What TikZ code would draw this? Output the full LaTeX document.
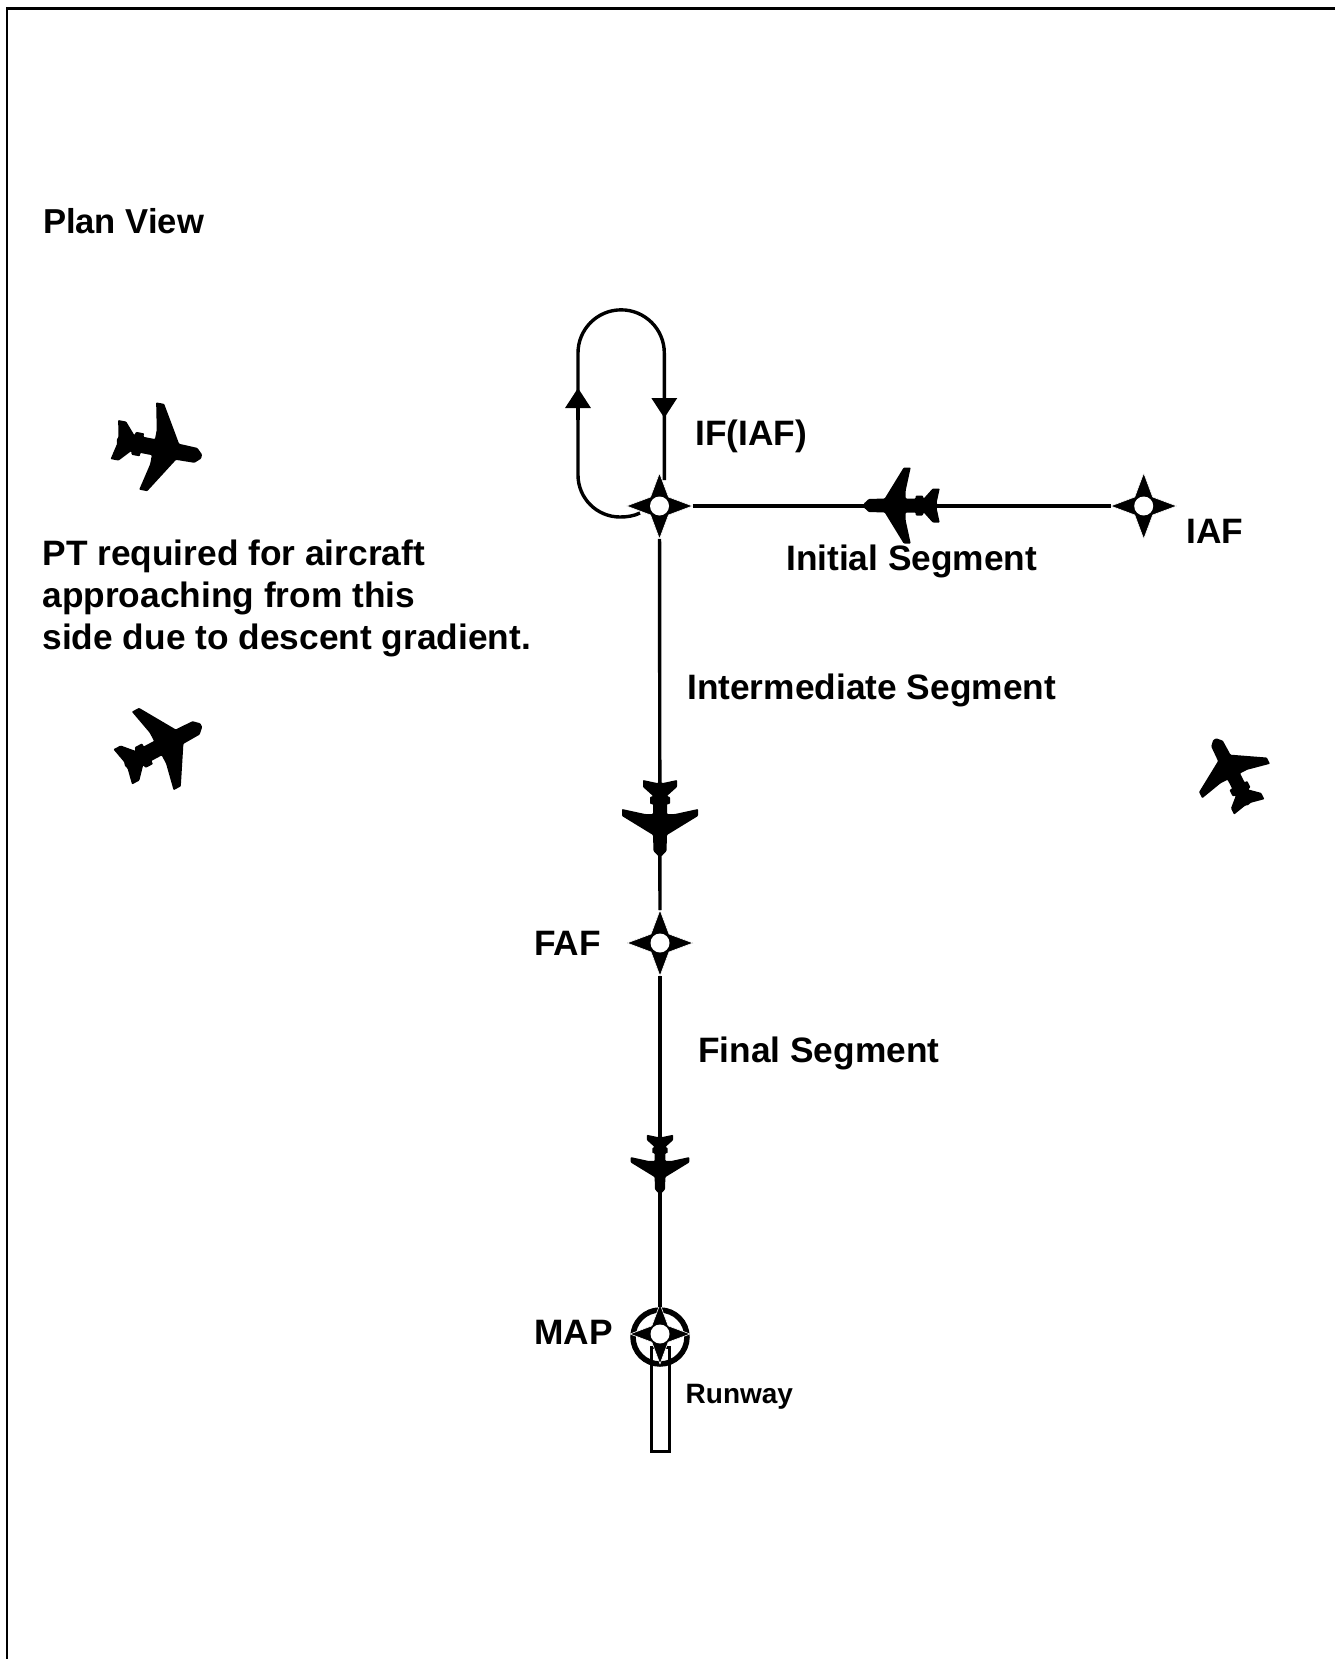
\documentclass[tikz,border=0pt]{standalone}
\usepackage{fontspec}
\setmainfont{Liberation Sans}
\usepackage{tikz}
\usetikzlibrary{arrows.meta, shapes.geometric}

\begin{document}
\begin{tikzpicture}[x=1pt, y=-1pt,
    fixstar/.style={star, star points=4, star point ratio=2.6, minimum size=66pt, inner sep=0pt, outer sep=0pt,
                    fill=black, draw=white, line width=0.6pt, line join=round,
                    path picture={\fill[white] (path picture bounding box.center) circle (9.5);}},
    track/.style={line width=3.4pt, black},
    tipped/.style={track, -{Triangle[length=20pt, width=25pt]}},
    lbl/.style={anchor=base west, inner sep=0pt, font=\fontsize{35.3}{42}\selectfont\bfseries, align=left},
    plane/.pic={
        \fill[black, rounded corners=0.8pt] (38,-1.8) -- (33,-6.5) -- (17,-7) -- (-2,-38) -- (-9,-38) -- (-4,-15) -- (-4,-7)
            -- (-14,-7) -- (-14,-10) -- (-21,-10) -- (-22,-7) -- (-31,-17) -- (-38,-17) -- (-35,-3) -- (-36,0)
            -- (-35,3) -- (-38,17) -- (-31,17) -- (-22,7) -- (-21,10) -- (-14,10) -- (-14,7)
            -- (-4,7) -- (-4,15) -- (-9,38) -- (-2,38) -- (17,7) -- (33,6.5) -- (38,1.8) -- cycle;
    }
]
\useasboundingbox (0,0) rectangle (1335,1659);
\draw[line width=2.5pt] (7,1659) -- (7,8.5) -- (1335,8.5);

% labels
\node[lbl, font=\fontsize{34.6}{42}\selectfont\bfseries] (planview) at (42.8,233.7) {Plan View};
\node[lbl] (ptnote) at (42.3,649) {PT required for aircraft\\approaching from this\\side due to descent gradient.};
\node[lbl] (iflabel) at (695,445) {IF(IAF)};
\node[lbl] (iaflabel) at (1186,543) {IAF};
\node[lbl] (initial) at (786,570) {Initial Segment};
\node[lbl] (intermediate) at (687,699) {Intermediate Segment};
\node[lbl] (final) at (698,1062) {Final Segment};
\node[lbl] (faflabel) at (534,955) {FAF};
\node[lbl] (maplabel) at (534,1344.5) {MAP};
\node[lbl, font=\fontsize{28}{34}\selectfont\bfseries] (rwlabel) at (685.5,1403) {Runway};

% fixes
\node[rectangle, draw, line width=3pt, minimum width=18pt, minimum height=104pt, inner sep=0pt] (runway) at (660,1399) {};
\node[circle, draw, line width=5.5pt, minimum size=54pt, inner sep=0pt] (mapring) at (660,1337) {};
\node[fixstar] (if) at (659.5,506) {};
\node[fixstar] (iaf) at (1143.7,506) {};
\node[fixstar] (faf) at (660,943) {};
\node[fixstar, minimum size=60pt] (map) at (660,1334) {};

\coordinate (holdstart) at (640,513);
\coordinate (holdup) at (578,388);
\coordinate (holddown) at (664.3,418);
\coordinate (holdend) at (664.3,480);

\draw[track] (if) -- (iaf);
\draw[track] (if) -- (faf);
\draw[track] (faf) -- (mapring);

\draw[track] (holdstart) .. controls (634,516) and (627,517) .. (620,517) arc[start angle=90, end angle=180, radius=42]
    -- (578,353) arc[start angle=180, end angle=360, radius=43.15] -- (holdend);
\draw[tipped] (578,420) -- (holdup);
\draw[tipped] (664.3,385) -- (holddown);

% aircraft
\pic (planeleft) at (158,448) [rotate=-11, scale=1.17] {plane};
\pic (planelow) at (162,746) [rotate=28, scale=1.17] {plane};
\pic (planeright) at (1232,773) [rotate=117] {plane};
\pic (planeinit) at (901.7,505.5) [rotate=180] {plane};
\pic (planeinter) at (660,818) [rotate=-90] {plane};
\pic (planefinal) at (660,1164) [rotate=-90, scale=0.77] {plane};
\end{tikzpicture}
\end{document}
